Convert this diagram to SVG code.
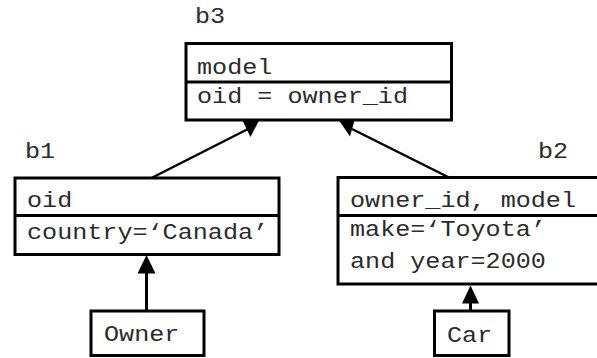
<svg xmlns="http://www.w3.org/2000/svg" width="597" height="358" viewBox="0 0 597 358">
  <style>
    .box { fill: #fff; stroke: #000; stroke-width: 3; }
    .div { stroke: #000; stroke-width: 3; }
    .t { font-family: "Liberation Mono", "Courier New", monospace; font-size: 22px; fill: #2b2b2b; }
    .edge { stroke: #000; stroke-width: 2.5; fill: none; }
    .vedge { stroke: #000; stroke-width: 3; fill: none; }
    .head { fill: #000; }
  </style>
  <rect width="597" height="358" fill="#fff"/>

  <!-- connectors -->
  <g id="connectors">
    <line class="edge" x1="151.5" y1="178" x2="248" y2="129"/>
    <polygon class="head" points="242.5,120.5 259,120.5 250.5,137"/>
    <line class="edge" x1="450" y1="178" x2="352" y2="129"/>
    <polygon class="head" points="339,120.5 354.5,120.5 350,136.5"/>
    <line class="vedge" x1="146.5" y1="311" x2="146.5" y2="270"/>
    <polygon class="head" points="146.5,255 137.5,273.5 155.5,273.5"/>
    <line class="vedge" x1="470.5" y1="311" x2="470.5" y2="300"/>
    <polygon class="head" points="470.5,285.5 462,303.5 479,303.5"/>
  </g>

  <!-- b3 -->
  <g id="b3">
    <text class="t" x="195" y="23" textLength="30.1" lengthAdjust="spacingAndGlyphs">b3</text>
    <rect class="box" x="186" y="43.5" width="265.5" height="76.5"/>
    <line class="div" x1="186" y1="82" x2="451.5" y2="82"/>
    <text class="t" x="197" y="74" textLength="75.4" lengthAdjust="spacingAndGlyphs">model</text>
    <text class="t" x="197" y="103" textLength="211" lengthAdjust="spacingAndGlyphs">oid = owner_id</text>
  </g>

  <!-- b1 -->
  <g id="b1">
    <text class="t" x="25" y="158" textLength="30.1" lengthAdjust="spacingAndGlyphs">b1</text>
    <rect class="box" x="15" y="178" width="264" height="76.5"/>
    <line class="div" x1="15" y1="215.5" x2="279" y2="215.5"/>
    <text class="t" x="27" y="206.5" textLength="45.2" lengthAdjust="spacingAndGlyphs">oid</text>
    <text class="t" x="27" y="239" textLength="241.1" lengthAdjust="spacingAndGlyphs">country=‘Canada’</text>
  </g>

  <!-- b2 -->
  <g id="b2">
    <text class="t" x="538" y="157.5" textLength="30.1" lengthAdjust="spacingAndGlyphs">b2</text>
    <rect class="box" x="338" y="177.5" width="270" height="106.5"/>
    <line class="div" x1="338" y1="215.5" x2="600" y2="215.5"/>
    <text class="t" x="350" y="207" textLength="226" lengthAdjust="spacingAndGlyphs">owner_id, model</text>
    <text class="t" x="350" y="236" textLength="195.9" lengthAdjust="spacingAndGlyphs">make=‘Toyota’</text>
    <text class="t" x="350" y="268" textLength="195.9" lengthAdjust="spacingAndGlyphs">and year=2000</text>
  </g>

  <!-- Owner -->
  <g id="owner">
    <rect class="box" x="91" y="311" width="113" height="44.5"/>
    <text class="t" x="104" y="341" textLength="75.4" lengthAdjust="spacingAndGlyphs">Owner</text>
  </g>

  <!-- Car -->
  <g id="car">
    <rect class="box" x="434.5" y="311" width="74.5" height="44.5"/>
    <text class="t" x="447" y="341.5" textLength="45.2" lengthAdjust="spacingAndGlyphs">Car</text>
  </g>
</svg>
